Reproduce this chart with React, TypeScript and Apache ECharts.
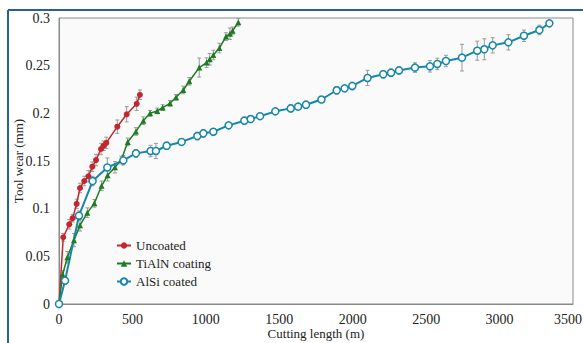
import React, { useEffect, useRef } from "react";
import * as echarts from "echarts";

const uncoatedX = [0, 29, 70, 93, 120, 143, 172, 200, 227, 252, 286, 304, 322, 397, 461, 529, 551];
const uncoatedY = [0, 0.07, 0.0836, 0.09, 0.105, 0.1217, 0.129, 0.134, 0.144, 0.151, 0.1626, 0.166, 0.169, 0.186, 0.199, 0.21, 0.2195];
const uncoatedErr = [0, 0.004, 0.005, 0.004, 0.005, 0.005, 0.005, 0.006, 0.005, 0.006, 0.006, 0.005, 0.006, 0.007, 0.008, 0.007, 0.005];

const tialnX = [0, 25, 57, 102, 143, 193, 241, 290, 331, 381, 424, 468, 524, 574, 620, 669, 706, 756, 797, 846, 887, 955, 1005, 1026, 1051, 1092, 1137, 1164, 1182, 1221];
const tialnY = [0, 0.031, 0.049, 0.067, 0.0825, 0.0958, 0.1056, 0.124, 0.135, 0.1434, 0.151, 0.17, 0.181, 0.1923, 0.2, 0.2025, 0.206, 0.2105, 0.2168, 0.2245, 0.2336, 0.248, 0.2532, 0.2567, 0.2612, 0.2685, 0.2805, 0.2835, 0.2865, 0.2955];
const tialnErr = [0, 0.004, 0.006, 0.007, 0.006, 0.005, 0.004, 0.005, 0.006, 0.006, 0.004, 0.004, 0.004, 0.004, 0.003, 0.003, 0.003, 0.003, 0.003, 0.004, 0.004, 0.01, 0.005, 0.006, 0.005, 0.005, 0.004, 0.006, 0.004, 0.004];

const alsiX = [0, 41, 136, 229, 329, 438, 524, 624, 660, 733, 835, 942, 983, 1051, 1155, 1262, 1305, 1369, 1473, 1578, 1628, 1682, 1787, 1891, 1945, 1997, 2101, 2208, 2261, 2315, 2424, 2526, 2576, 2635, 2744, 2848, 2896, 2953, 3060, 3166, 3271, 3339];
const alsiY = [0, 0.0245, 0.0926, 0.129, 0.1432, 0.1507, 0.158, 0.1605, 0.1605, 0.166, 0.17, 0.1762, 0.179, 0.1807, 0.1874, 0.1923, 0.194, 0.197, 0.2021, 0.2052, 0.207, 0.209, 0.2145, 0.2242, 0.2262, 0.2287, 0.2371, 0.241, 0.2426, 0.245, 0.248, 0.2493, 0.2518, 0.2549, 0.2584, 0.2657, 0.2672, 0.2713, 0.2745, 0.2814, 0.2874, 0.2944];
const alsiErr = [0, 0.004, 0.005, 0.005, 0.01, 0.005, 0.004, 0.006, 0.008, 0.004, 0.003, 0.004, 0.004, 0.003, 0.003, 0.004, 0.003, 0.003, 0.003, 0.004, 0.003, 0.004, 0.003, 0.004, 0.003, 0.004, 0.008, 0.004, 0.004, 0.004, 0.005, 0.006, 0.006, 0.006, 0.014, 0.01, 0.011, 0.008, 0.008, 0.006, 0.005, 0.003];

const xTicks = [0, 500, 1000, 1500, 2000, 2500, 3000, 3500];
const yTicks = [0, 0.05, 0.1, 0.15, 0.2, 0.25, 0.3];

const RED = "#c4262e";
const GREEN = "#1e7b22";
const BLUE = "#1687a8";
const FONT = "Liberation Serif";

function pairs(xs: number[], ys: number[]) {
  return xs.map((x, i) => [x, ys[i]]);
}
function errData(xs: number[], ys: number[], es: number[]) {
  return xs.map((x, i) => [x, ys[i] - es[i], ys[i] + es[i]]).filter((d, i) => es[i] > 0);
}

function errorSeries(data: number[][]) {
  return {
    type: "custom",
    data,
    z: 1,
    silent: true,
    encode: { x: 0, y: [1, 2] },
    renderItem: (params: any, api: any) => {
      const x = api.value(0);
      const lo = api.coord([x, api.value(1)]);
      const hi = api.coord([x, api.value(2)]);
      const cap = 2;
      const style = { stroke: "#9a9a9a", lineWidth: 1 };
      return {
        type: "group",
        children: [
          { type: "line", shape: { x1: lo[0], y1: lo[1], x2: hi[0], y2: hi[1] }, style },
          { type: "line", shape: { x1: lo[0] - cap, y1: lo[1], x2: lo[0] + cap, y2: lo[1] }, style },
          { type: "line", shape: { x1: hi[0] - cap, y1: hi[1], x2: hi[0] + cap, y2: hi[1] }, style },
        ],
      };
    },
  };
}

export default function App() {
  const ref = useRef<HTMLDivElement>(null);
  useEffect(() => {
    if (!ref.current) return;
    const chart = echarts.init(ref.current, undefined, { renderer: "svg" });
    const xMax = xTicks[xTicks.length - 1];
    chart.setOption({
      animation: false,
      backgroundColor: "#ffffff",
      graphic: [
        { type: "line", shape: { x1: 8, y1: 10, x2: 583, y2: 10 }, style: { stroke: "#2b5f98", lineWidth: 2 }, z: 100 },
        { type: "line", shape: { x1: 8, y1: 10, x2: 8, y2: 343 }, style: { stroke: "#2b5f98", lineWidth: 2 }, z: 100 },
      ],
      grid: {
        left: 59,
        right: 10,
        top: 18,
        bottom: 39,
        outerBoundsMode: "none",
        containLabel: false,
        show: true,
        backgroundColor: "#fafafa",
        borderColor: "#8a8a8a",
        borderWidth: 1,
      },
      legend: {
        orient: "vertical",
        left: 111,
        top: 234,
        itemGap: 5,
        itemWidth: 14,
        itemHeight: 8,
        textStyle: { fontFamily: FONT, fontSize: 13, color: "#222" },
        data: ["Uncoated", "TiAlN coating", "AlSi coated"],
      },
      xAxis: {
        type: "value",
        min: xTicks[0],
        max: xMax,
        interval: 500,
        name: "Cutting length (m)",
        nameLocation: "middle",
        nameGap: 23,
        nameMoveOverlap: false,
        nameTextStyle: { fontFamily: FONT, fontSize: 13, color: "#222" },
        axisLine: { show: true, lineStyle: { color: "#8a8a8a" } },
        axisTick: { show: false },
        splitLine: { show: false },
        axisLabel: {
          fontFamily: FONT,
          fontSize: 14,
          color: "#222",
          margin: 8,
          showMaxLabel: true,
          formatter: (v: number) => (v === xMax ? "{r|" + v + "}" : String(v)),
          rich: {
            r: { fontFamily: FONT, fontSize: 14, color: "#222", padding: [0, 10, 0, 0] },
          },
        },
      },
      yAxis: {
        type: "value",
        min: 0,
        max: 0.3,
        interval: 0.05,
        name: "Tool wear (mm)",
        nameLocation: "middle",
        nameGap: 34,
        nameMoveOverlap: false,
        nameTextStyle: { fontFamily: FONT, fontSize: 13, color: "#222" },
        axisLine: { show: true, lineStyle: { color: "#8a8a8a" } },
        axisTick: { show: false },
        splitLine: { show: false },
        axisLabel: {
          fontFamily: FONT,
          fontSize: 14,
          color: "#222",
          margin: 9,
          formatter: (v: number) => String(Math.round(v * 100) / 100),
        },
      },
      series: [
        errorSeries(errData(uncoatedX, uncoatedY, uncoatedErr)),
        errorSeries(errData(tialnX, tialnY, tialnErr)),
        errorSeries(errData(alsiX, alsiY, alsiErr)),
        {
          name: "Uncoated",
          type: "line",
          data: pairs(uncoatedX, uncoatedY),
          z: 3,
          symbol: "circle",
          symbolSize: 6,
          lineStyle: { color: RED, width: 1.5 },
          itemStyle: { color: RED },
        },
        {
          name: "TiAlN coating",
          type: "line",
          data: pairs(tialnX, tialnY),
          z: 3,
          symbol: "triangle",
          symbolSize: 6,
          lineStyle: { color: GREEN, width: 1.5 },
          itemStyle: { color: GREEN },
        },
        {
          name: "AlSi coated",
          type: "line",
          data: pairs(alsiX, alsiY),
          z: 3,
          symbol: "circle",
          symbolSize: 7,
          lineStyle: { color: BLUE, width: 2 },
          itemStyle: { color: "#ffffff", borderColor: BLUE, borderWidth: 1.5 },
        },
      ],
    });
    return () => chart.dispose();
  }, []);
  return <div ref={ref} style={{ width: 583, height: 343, position: "absolute", left: 0, top: 0 }} />;
}
